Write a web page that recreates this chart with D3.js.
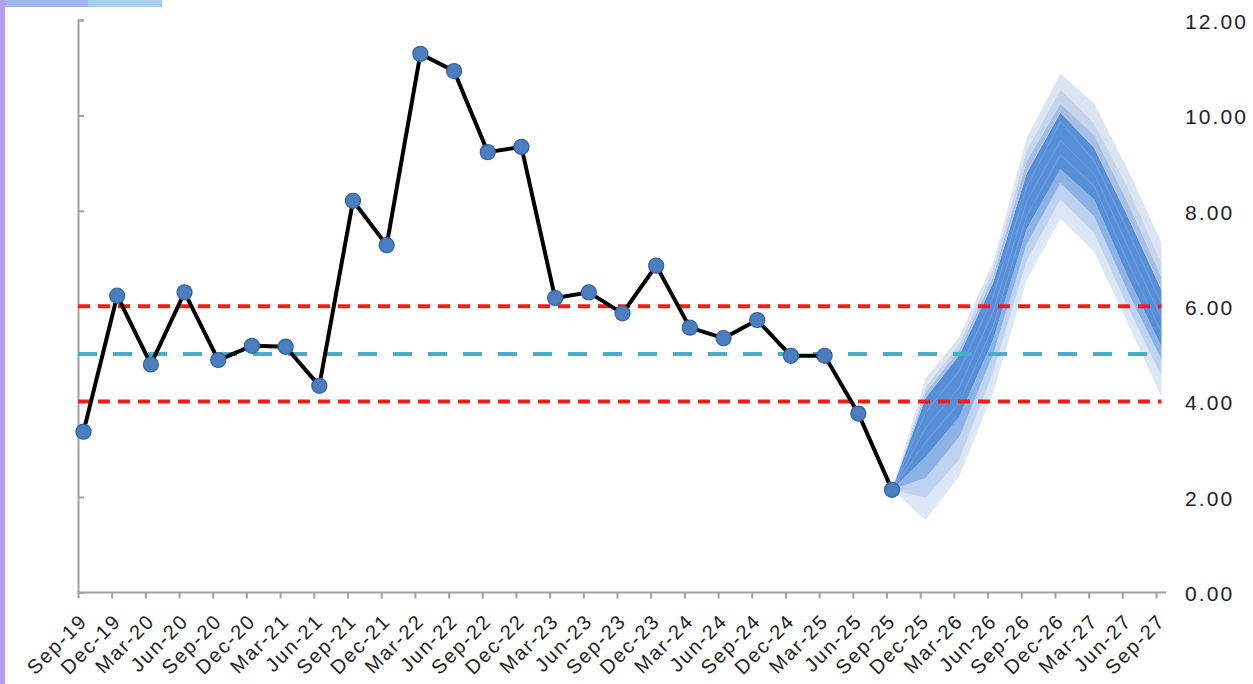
<!DOCTYPE html>
<html>
<head>
<meta charset="utf-8">
<script src="https://cdn.jsdelivr.net/npm/d3@7"></script>
<style>
  html, body { margin: 0; padding: 0; background: #fff; }
  svg { display: block; }
  text { font-family: "Liberation Sans", Arial, sans-serif; }
</style>
</head>
<body>
<svg id="chart" width="1253" height="684"></svg>
<script>
// ---------------- DATA ----------------
const categories = [
  "Sep-19","Dec-19","Mar-20","Jun-20","Sep-20","Dec-20","Mar-21","Jun-21",
  "Sep-21","Dec-21","Mar-22","Jun-22","Sep-22","Dec-22","Mar-23","Jun-23",
  "Sep-23","Dec-23","Mar-24","Jun-24","Sep-24","Dec-24","Mar-25","Jun-25",
  "Sep-25","Dec-25","Mar-26","Jun-26","Sep-26","Dec-26","Mar-27","Jun-27","Sep-27"
];
const actualValues = [3.37, 6.22, 4.78, 6.29, 4.87, 5.17, 5.15, 4.33, 8.21, 7.28,
  11.29, 10.93, 9.23, 9.34, 6.17, 6.29, 5.85, 6.85, 5.55, 5.33, 5.71, 4.96, 4.96, 3.75, 2.15];

const fanCategories = ["Sep-25","Dec-25","Mar-26","Jun-26","Sep-26","Dec-26","Mar-27","Jun-27","Sep-27"];
const fanLo4  = [2.15, 1.52, 2.44, 4.18, 6.55, 7.83, 7.14, 5.65, 4.10];
const fanLo3  = [2.15, 1.98, 2.78, 4.60, 6.95, 8.23, 7.53, 5.98, 4.52];
const fanLo2  = [2.15, 2.40, 3.26, 4.98, 7.30, 8.58, 7.88, 6.30, 4.87];
const fanLo1  = [2.15, 2.84, 3.68, 5.29, 7.62, 8.87, 8.23, 6.62, 5.15];
const fanMidLo= [2.15, 3.15, 3.98, 5.58, 7.90, 9.17, 8.52, 6.92, 5.45];
const fanMid  = [2.15, 3.45, 4.30, 5.88, 8.20, 9.47, 8.78, 7.25, 5.75];
const fanMidHi= [2.15, 3.78, 4.65, 6.20, 8.50, 9.87, 9.05, 7.58, 6.05];
const fanHi1  = [2.15, 4.08, 4.98, 6.49, 8.79, 10.06, 9.32, 7.88, 6.34];
const fanHi2  = [2.15, 4.20, 5.10, 6.62, 9.05, 10.25, 9.59, 8.18, 6.62];
const fanHi3  = [2.15, 4.31, 5.22, 6.78, 9.28, 10.55, 9.84, 8.50, 6.91];
const fanHi4  = [2.15, 4.49, 5.36, 6.91, 9.53, 10.88, 10.25, 8.86, 7.33];

const upperBand = 6;
const targetLevel = 5;
const lowerBand = 4;

const yTickValues = [0, 2, 4, 6, 8, 10, 12];

// ---------------- DRAW ----------------
const svg = d3.select("#chart");

// page decoration fragments (cropped page chrome)
svg.append("rect").attr("x", 0).attr("y", 0).attr("width", 5).attr("height", 684).attr("fill", "#b59df0");
svg.append("rect").attr("x", 5).attr("y", 0).attr("width", 83).attr("height", 7).attr("fill", "#a3b5ee");
svg.append("rect").attr("x", 88).attr("y", 0).attr("width", 74).attr("height", 7).attr("fill", "#a7cff0");

const xTick = d3.scalePoint().domain(categories).range([78, 1156]);
const pointOffset = 5.5;
const xp = c => xTick(c) + pointOffset;
const y = d3.scaleLinear().domain([0, 12]).range([592.4, 20]);

// Fan chart
const fanRows = fanCategories.map((c, i) => ({
  c, lo4: fanLo4[i], lo3: fanLo3[i], lo2: fanLo2[i], lo1: fanLo1[i],
  mlo: fanMidLo[i], mid: fanMid[i], mhi: fanMidHi[i],
  hi1: fanHi1[i], hi2: fanHi2[i], hi3: fanHi3[i], hi4: fanHi4[i]
}));
const band = (a, b) => d3.area().x(d => xp(d.c)).y0(d => y(d[a])).y1(d => y(d[b]));
const fanG = svg.append("g");
const bands = [
  ["lo4", "lo3", "#dce7f6"],
  ["lo3", "lo2", "#bfd3f0"],
  ["lo2", "lo1", "#8db2e6"],
  ["lo1", "hi1", "#5890d8"],
  ["hi1", "hi2", "#a6bfe2"],
  ["hi2", "hi3", "#c6d5ea"],
  ["hi3", "hi4", "#dbe5f2"]
];
bands.forEach(([a, b, col]) => {
  fanG.append("path").datum(fanRows).attr("d", band(a, b)).attr("fill", col);
});
["mlo", "mid", "mhi"].forEach(k => {
  fanG.append("path").datum(fanRows)
    .attr("d", d3.line().x(d => xp(d.c)).y(d => y(d[k])))
    .attr("fill", "none").attr("stroke", "#7ea8e2").attr("stroke-width", 1).attr("opacity", 0.7);
});

// Axes
const xAxisG = svg.append("g").attr("transform", `translate(0,${y(0)})`)
  .call(d3.axisBottom(xTick).tickSize(6).tickSizeOuter(0));
xAxisG.select(".domain").attr("d", `M${xTick.range()[0]},0H${xTick.range()[1] + xTick.step() * 0.3}`);
xAxisG.selectAll(".domain, .tick line").attr("stroke", "#a0a0a0").attr("stroke-width", 2);
xAxisG.selectAll(".tick text")
  .attr("x", 0).attr("y", 0).attr("dy", 0)
  .attr("transform", "translate(10,30) rotate(-45)")
  .attr("text-anchor", "end")
  .attr("fill", "#222")
  .style("font-size", "20px")
  .style("letter-spacing", "1.8px");

const yAxisG = svg.append("g").attr("transform", `translate(${xTick.range()[0]},0)`)
  .call(d3.axisRight(y).tickValues(yTickValues).tickSize(6).tickFormat(""));
yAxisG.selectAll(".domain, .tick line").attr("stroke", "#a0a0a0").attr("stroke-width", 2);

// Right-side value labels
const rightAxisG = svg.append("g").attr("transform", "translate(1185,1.5)")
  .call(d3.axisRight(y).tickValues(yTickValues).tickSize(0).tickPadding(0).tickFormat(d3.format(".2f")));
rightAxisG.select(".domain").remove();
rightAxisG.selectAll(".tick text")
  .attr("fill", "#222")
  .style("font-size", "21px")
  .style("letter-spacing", "2.1px");

// Reference lines
const refX0 = xTick(categories[0]);
const refX1 = xp(categories[categories.length - 1]);
const refs = [
  [upperBand, "#ff1a1a", "12,8"],
  [targetLevel, "#45aec8", "19,16"],
  [lowerBand, "#ff1a1a", "12,8"]
];
refs.forEach(([v, col, dash]) => {
  svg.append("line")
    .attr("x1", refX0).attr("x2", refX1)
    .attr("y1", y(v)).attr("y2", y(v))
    .attr("stroke", col).attr("stroke-width", 4).attr("stroke-dasharray", dash);
});

// Actual series
const actualRows = actualValues.map((v, i) => ({ c: categories[i], v }));
svg.append("path").datum(actualRows)
  .attr("d", d3.line().x(d => xp(d.c)).y(d => y(d.v)))
  .attr("fill", "none").attr("stroke", "#000").attr("stroke-width", 4).attr("stroke-linejoin", "round");
svg.append("g").selectAll("circle").data(actualRows).join("circle")
  .attr("cx", d => xp(d.c)).attr("cy", d => y(d.v)).attr("r", 7.5)
  .attr("fill", "#4a7ebf").attr("stroke", "#3566a3").attr("stroke-width", 1.3);
</script>
</body>
</html>
